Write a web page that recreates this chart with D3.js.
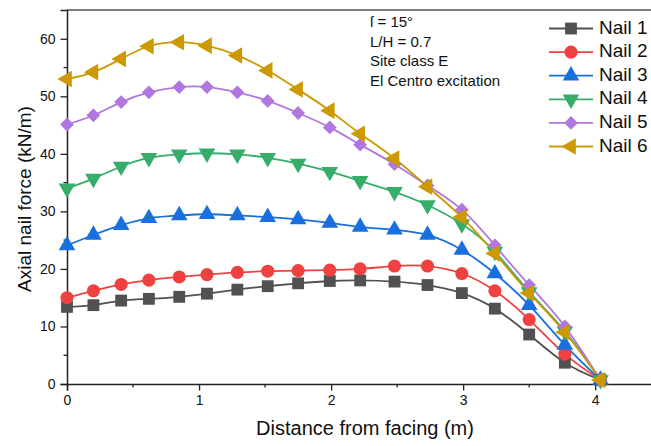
<!DOCTYPE html>
<html>
<head>
<meta charset="utf-8">
<script src="https://cdn.jsdelivr.net/npm/d3@7"></script>
<style>
  body { margin: 0; background: #fff; }
  svg text { font-family: "Liberation Sans", Arial, sans-serif; fill: #111; }
</style>
</head>
<body>
<script>
// distance of each nail point from the facing (m)
var distance = [0, 0.2, 0.41, 0.62, 0.85, 1.06, 1.29, 1.52, 1.75, 1.99, 2.22, 2.48, 2.73, 2.99, 3.24, 3.5, 3.77, 4.04];

var nail1 = [13.4, 13.7, 14.5, 14.8, 15.15, 15.7, 16.4, 17.0, 17.5, 17.9, 18.0, 17.8, 17.2, 15.8, 13.1, 8.6, 3.7, 0.7];
var nail2 = [15.0, 16.2, 17.3, 18.05, 18.6, 19.0, 19.4, 19.6, 19.7, 19.8, 20.0, 20.5, 20.5, 19.2, 16.2, 11.2, 5.2, 0.7];
var nail3 = [24.1, 25.9, 27.6, 28.8, 29.3, 29.5, 29.3, 29.0, 28.6, 28.0, 27.3, 26.8, 25.9, 23.3, 19.2, 13.7, 6.8, 0.7];
var nail4 = [34.0, 35.7, 37.8, 39.3, 39.9, 40.1, 39.9, 39.3, 38.3, 36.9, 35.3, 33.4, 31.1, 27.8, 23.0, 16.0, 9.2, 0.7];
var nail5 = [45.1, 46.7, 49.0, 50.7, 51.6, 51.6, 50.7, 49.2, 47.1, 44.6, 41.6, 38.2, 34.5, 30.3, 24.1, 17.2, 10.0, 0.7];
var nail6 = [53.0, 54.2, 56.5, 58.7, 59.4, 58.8, 57.1, 54.5, 51.2, 47.5, 43.5, 39.2, 34.3, 29.0, 22.7, 15.8, 9.0, 0.7];

var seriesNames = ["Nail 1", "Nail 2", "Nail 3", "Nail 4", "Nail 5", "Nail 6"];
var xTicks = [0, 1, 2, 3, 4];
var yTicks = [0, 10, 20, 30, 40, 50, 60];
var notes = ["\u017F = 15\u00B0", "L/H = 0.7", "Site class E", "El Centro excitation"];

var colors = ["#515151", "#F14040", "#1A6FDF", "#37AD6B", "#B177DE", "#CC9900"];
// marker shape + rotation per series
var shapes = [
  {type: d3.symbolSquare, size: 140, rot: 0},
  {type: d3.symbolCircle, size: 135, rot: 0},
  {type: d3.symbolTriangle, size: 120, rot: 0},
  {type: d3.symbolTriangle, size: 120, rot: 180},
  {type: d3.symbolSquare, size: 95, rot: 45},
  {type: d3.symbolTriangle, size: 120, rot: -90}
];

var allSeries = [nail1, nail2, nail3, nail4, nail5, nail6];

var W = 651, H = 446;
var margin = {top: 10, right: 0, bottom: 62, left: 67};

var svg = d3.select("body").append("svg")
    .attr("width", W)
    .attr("height", H);

var x = d3.scaleLinear().domain([0, 4.43]).range([margin.left, W + 1]);
var y = d3.scaleLinear().domain([0, 65]).range([H - margin.bottom, margin.top]);

// top frame line
svg.append("line")
    .attr("x1", margin.left).attr("x2", W)
    .attr("y1", margin.top).attr("y2", margin.top)
    .style("stroke", "#555").style("stroke-width", 1.5);

// minor ticks
var xMinor = d3.range(0.5, 4.4, 1);
svg.append("g").selectAll("line").data(xMinor).enter().append("line")
    .attr("x1", function(d) { return x(d); }).attr("x2", function(d) { return x(d); })
    .attr("y1", y(0)).attr("y2", y(0) + 3.5)
    .style("stroke", "#222").style("stroke-width", 1.3);
var yMinor = d3.range(5, 65, 10);
svg.append("g").selectAll("line").data(yMinor).enter().append("line")
    .attr("x1", margin.left - 3.5).attr("x2", margin.left)
    .attr("y1", function(d) { return y(d); }).attr("y2", function(d) { return y(d); })
    .style("stroke", "#222").style("stroke-width", 1.3);

// Add the X Axis
var gx = svg.append("g")
    .attr("transform", "translate(0," + y(0) + ")")
    .call(d3.axisBottom(x).tickValues(xTicks).tickSize(6.5).tickPadding(5).tickFormat(d3.format("d")));

// Add the Y Axis
var gy = svg.append("g")
    .attr("transform", "translate(" + margin.left + ",0)")
    .call(d3.axisLeft(y).tickValues(yTicks).tickSize(6.5).tickPadding(5).tickFormat(d3.format("d")));

[gx, gy].forEach(function(g) {
  g.select(".domain").style("stroke", "#222").style("stroke-width", 1.5);
  g.selectAll(".tick line").style("stroke", "#222").style("stroke-width", 1.3);
  g.selectAll(".tick text").style("font-size", "14px").style("font-family", "Liberation Sans, Arial, sans-serif").style("fill", "#111");
});

// axis titles
svg.append("text")
    .attr("x", 365).attr("y", 430)
    .attr("text-anchor", "middle").attr("dominant-baseline", "middle")
    .style("font-size", "20px")
    .text("Distance from facing (m)");

svg.append("text")
    .attr("transform", "translate(26," + 199 + ") rotate(-90)")
    .attr("text-anchor", "middle").attr("dominant-baseline", "middle")
    .style("font-size", "19px")
    .text("Axial nail force (kN/m)");

// lines + markers
var line = d3.line()
    .curve(d3.curveNatural)
    .x(function(d, i) { return x(distance[i]); })
    .y(function(d) { return y(d); });

allSeries.forEach(function(s, k) {
  svg.append("path")
      .datum(s)
      .style("fill", "none")
      .style("stroke", colors[k])
      .style("stroke-width", 1.8)
      .attr("d", line);
});

allSeries.forEach(function(s, k) {
  var sym = d3.symbol().type(shapes[k].type).size(shapes[k].size);
  svg.append("g").selectAll("path")
      .data(s)
      .enter().append("path")
      .attr("d", sym)
      .attr("transform", function(d, i) {
        return "translate(" + x(distance[i]) + "," + y(d) + ") rotate(" + shapes[k].rot + ")";
      })
      .style("fill", colors[k]);
});

// legend
var legend = svg.append("g");
seriesNames.forEach(function(name, k) {
  var ly = 28.5 + k * 23.6;
  legend.append("line")
      .attr("x1", 549).attr("x2", 593)
      .attr("y1", ly).attr("y2", ly)
      .style("stroke", colors[k]).style("stroke-width", 1.8);
  legend.append("path")
      .attr("d", d3.symbol().type(shapes[k].type).size(shapes[k].size))
      .attr("transform", "translate(571," + ly + ") rotate(" + shapes[k].rot + ")")
      .style("fill", colors[k]);
  legend.append("text")
      .attr("x", 599).attr("y", ly)
      .attr("dominant-baseline", "middle")
      .style("font-size", "19px")
      .text(name);
});

// annotation
notes.forEach(function(t, i) {
  svg.append("text")
      .attr("x", 370).attr("y", 23.5 + i * 19.5)
      .attr("dominant-baseline", "middle")
      .style("font-size", "15px")
      .text(t);
});
</script>
</body>
</html>
